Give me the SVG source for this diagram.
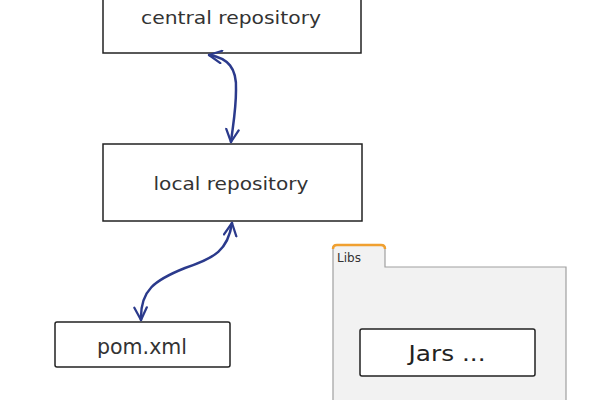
<svg xmlns="http://www.w3.org/2000/svg" width="600" height="400" viewBox="0 0 600 400">
<style>
.box{fill:#fff;stroke:#222;stroke-width:1.5}
.lbl{font-family:"DejaVu Sans",sans-serif;fill:#333;text-anchor:middle}
.conn{fill:none;stroke:#2b3a8c;stroke-width:2.5;stroke-linecap:round}
</style>
<defs>
<marker id="ah" viewBox="0 0 12 12" refX="11" refY="6" markerWidth="6" markerHeight="6" orient="auto-start-reverse" markerUnits="strokeWidth">
<path d="M1,1 L11,6 L1,11" fill="none" stroke="#2b3a8c" stroke-width="1.8" stroke-linecap="round" stroke-linejoin="round"/>
</marker>
</defs>
<rect width="600" height="400" fill="#fff"/>
<g id="libs">
<path d="M333,400 V248 Q333,245 336,245 H382 Q385,245 385,248 V267 H566 V400" fill="#f2f2f2" stroke="#a0a0a0" stroke-width="1.2"/>
<path d="M333,249 Q333,245 337,245 H381 Q385,245 385,249" fill="none" stroke="#f0a030" stroke-width="2.5"/>
<text x="337" y="262" style="font-family:'DejaVu Sans',sans-serif;font-size:12px;fill:#333">Libs</text>
</g>
<g id="central">
<rect class="box" x="103" y="-5" width="258" height="58"/>
<text class="lbl" x="231" y="24" font-size="17" textLength="180" lengthAdjust="spacingAndGlyphs">central repository</text>
</g>
<g id="local">
<rect class="box" x="103" y="144" width="259" height="77"/>
<text class="lbl" x="231" y="190" font-size="17" textLength="155" lengthAdjust="spacingAndGlyphs">local repository</text>
</g>
<g id="pom">
<rect class="box" x="55" y="322" width="175" height="45" rx="2"/>
<text class="lbl" x="142" y="354" font-size="21" textLength="90" lengthAdjust="spacingAndGlyphs">pom.xml</text>
</g>
<g id="jars">
<rect class="box" x="360" y="329" width="175" height="47" rx="2"/>
<text class="lbl" x="447" y="361" font-size="21" style="fill:#222" textLength="77" lengthAdjust="spacingAndGlyphs">Jars ...</text>
</g>
<g id="connectors">
<path class="conn" d="M209,55 C228,58 237,68 236,90 C236,110 233,125 231,142" marker-start="url(#ah)" marker-end="url(#ah)"/>
<path class="conn" d="M232,223 C228,250 215,258 185,268 C155,280 140,290 141,320" marker-start="url(#ah)" marker-end="url(#ah)"/>
</g>
</svg>
